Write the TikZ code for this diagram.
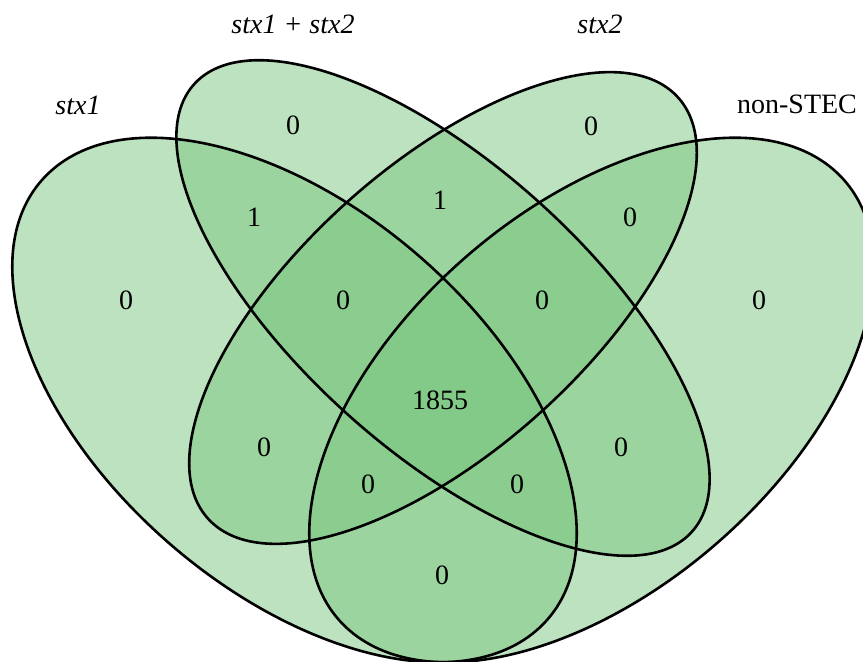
\documentclass[tikz,border=0pt]{standalone}
\usepackage{fontspec}
\setmainfont{Liberation Serif}
\definecolor{venngreen}{RGB}{123,198,128}

\begin{document}
\begin{tikzpicture}[
    x=0.5pt, y=0.5pt,
    setfill/.style={fill=venngreen, fill opacity=0.5},
    setline/.style={draw=black, line width=1.3pt},
    setname/.style={font=\fontsize{14}{16}\selectfont\itshape},
    count/.style={font=\fontsize{14}{16}\selectfont},
]
\useasboundingbox (0,0) rectangle (863,661);

% Four ellipses, drawn in the unit frame of the panel
\begin{scope}
\clip (0,0) rectangle (863,661);
\begin{scope}[shift={(-52,-171.4)}, xscale=990, yscale=920]
  \fill[setfill, rotate around={135:(0.35,0.47)}] (0.35,0.47) ellipse (0.35 and 0.20);
  \fill[setfill, rotate around={45:(0.65,0.47)}] (0.65,0.47) ellipse (0.35 and 0.20);
  \fill[setfill, rotate around={135:(0.50,0.57)}] (0.50,0.57) ellipse (0.35 and 0.15);
  \fill[setfill, rotate around={45:(0.50,0.57)}] (0.50,0.57) ellipse (0.33 and 0.15);
  \draw[setline, rotate around={135:(0.35,0.47)}] (0.35,0.47) ellipse (0.35 and 0.20);
  \draw[setline, rotate around={45:(0.65,0.47)}] (0.65,0.47) ellipse (0.35 and 0.20);
  \draw[setline, rotate around={135:(0.50,0.57)}] (0.50,0.57) ellipse (0.35 and 0.15);
  \draw[setline, rotate around={45:(0.50,0.57)}] (0.50,0.57) ellipse (0.33 and 0.15);
\end{scope}
\end{scope}

% Set names
\node[setname] (name1) at (78,556) {stx1};
\node[setname] (name12) at (293,637) {stx1 + stx2};
\node[setname] (name2) at (600,637) {stx2};
\node[count] (nameN) at (797,557) {non-STEC};

% Region counts
\node[count] (only1) at (126,361) {0};
\node[count] (only12) at (293,536) {0};
\node[count] (only2) at (591,535) {0};
\node[count] (onlyN) at (759,361) {0};
\node[count] (s1s12) at (254,444) {1};
\node[count] (s12s2) at (440,461) {1};
\node[count] (s2N) at (630,444) {0};
\node[count] (s1s12s2) at (343,361) {0};
\node[count] (s12s2N) at (542,361) {0};
\node[count] (all) at (440,261) {1855};
\node[count] (s1s2) at (264,214) {0};
\node[count] (s1s2N) at (368,177) {0};
\node[count] (s1s12N) at (517,177) {0};
\node[count] (s12N) at (621,214) {0};
\node[count] (s1N) at (442,86) {0};

\end{tikzpicture}
\end{document}
